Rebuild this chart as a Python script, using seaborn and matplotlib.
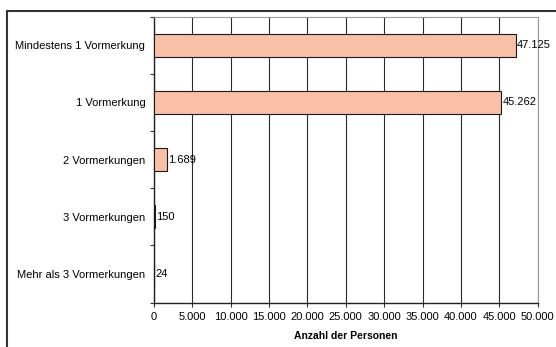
import matplotlib
matplotlib.use("Agg")
import matplotlib.pyplot as plt
import seaborn as sns
import pandas as pd
import numpy as np
from matplotlib.patches import Rectangle

categories = ["Mindestens 1 Vormerkung", "1 Vormerkung", "2 Vormerkungen",
              "3 Vormerkungen", "Mehr als 3 Vormerkungen"]
values = [47125, 45262, 1689, 150, 24]
xticks = [0, 5000, 10000, 15000, 20000, 25000, 30000, 35000, 40000, 45000, 50000]
xlabel = "Anzahl der Personen"

def de(v):
    return f"{v:,}".replace(",", ".")

sns.set_theme(style="white")
plt.rcParams['font.family'] = ['Liberation Sans', 'DejaVu Sans']
plt.rcParams['text.color'] = 'black'
plt.rcParams['axes.labelcolor'] = 'black'
plt.rcParams['xtick.color'] = 'black'
plt.rcParams['ytick.color'] = 'black'

df = pd.DataFrame({"cat": categories, "val": values})

W, H = 556, 347
fig = plt.figure(figsize=(W / 100, H / 100), dpi=100)
ax = fig.add_axes([153.7 / W, 1 - 302.7 / H, (537.7 - 153.7) / W, (302.7 - 16.7) / H])

sns.barplot(data=df, y="cat", x="val", orient="h", color="#F9BFA7",
            edgecolor="#1a1a1a", linewidth=0.8, width=0.4, saturation=1, ax=ax, zorder=3)

fs = 8
ax.set_xlim(0, 50000)
ax.set_ylim(4.5, -0.5)
ax.set_xticks(xticks)
ax.set_xticklabels([de(t) for t in xticks], fontsize=fs)
ax.xaxis.grid(True, color="#2a2a2a", linewidth=0.8)
ax.yaxis.grid(False)
ax.set_axisbelow(True)

ax.set_yticks(range(len(categories)))
ax.set_yticklabels(categories, fontsize=fs)
ax.set_yticks(np.arange(-0.5, len(categories), 1.0), minor=True)
ax.tick_params(axis="y", which="major", length=0, pad=6)
ax.tick_params(axis="y", which="minor", length=3, width=0.8, color="#333333", direction="out", left=True)
ax.tick_params(axis="x", which="major", length=3, width=0.8, color="#333333", direction="out", bottom=True, pad=4)

ax.set_ylabel("")
ax.set_xlabel(xlabel, fontsize=7.5, fontweight="bold", labelpad=6)

for s in ["left", "bottom"]:
    ax.spines[s].set_color("#222222")
    ax.spines[s].set_linewidth(1.0)
for s in ["top", "right"]:
    ax.spines[s].set_color("#999999")
    ax.spines[s].set_linewidth(0.8)

for i, v in enumerate(values):
    ax.text(v + 200, i, de(v), va="center", ha="left", fontsize=fs, zorder=5)

fig.patches.append(Rectangle((7 / W, -0.2), 1.2, 1 - 11 / H + 0.2, transform=fig.transFigure,
                             fill=False, edgecolor="#333333", linewidth=1.5, zorder=0))

fig.savefig("out.png", dpi=100)
